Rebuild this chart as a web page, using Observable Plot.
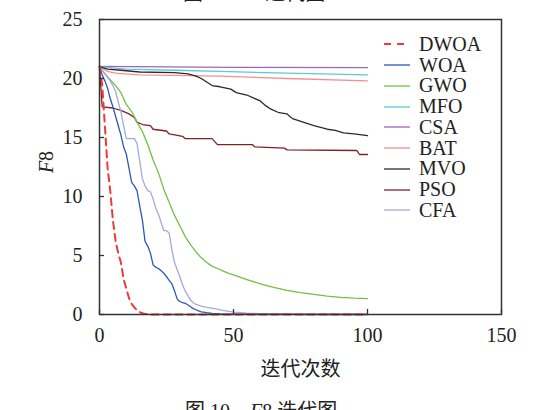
<!DOCTYPE html>
<html>
<head>
<meta charset="utf-8">
<script src="https://cdn.jsdelivr.net/npm/d3@7"></script>
<script src="https://cdn.jsdelivr.net/npm/@observablehq/plot@0.6"></script>
<style>
  html, body { margin: 0; padding: 0; background: #fff; }
  #page { position: relative; width: 546px; height: 410px; overflow: hidden; background: #fff;
          font-family: "Liberation Serif", "Noto Sans CJK SC", serif; color: #222; }
  #chart { position: absolute; left: 0; top: 0; }
  .cap { position: absolute; font-size: 20px; line-height: 24px; white-space: nowrap; }
  #ylab { position: absolute; left: 46px; top: 162px; font-size: 20px; line-height: 20px;
          transform: translate(-50%, -50%) rotate(-90deg); white-space: nowrap; }
  #legend { position: absolute; left: 383px; top: 34px; font-size: 20px; }
  #legend .row { display: flex; align-items: center; height: 20.75px; }
  #legend svg { margin-right: 8px; }
</style>
</head>
<body>
<div id="page">
  <div class="cap" id="title" style="left:183px; top:-19px;">图 9　<i>F</i>7 迭代图</div>
  <div id="chart"></div>
  <div id="ylab"><i>F</i>8</div>
  <div id="legend"></div>
  <div class="cap" id="caption" style="left:185px; top:399px;">图 10　<i>F</i>8 迭代图</div>
</div>
<script>
// Algorithm names and line colours
const series = ["DWOA", "WOA", "GWO", "MFO", "CSA", "BAT", "MVO", "PSO", "CFA"];
const colors = ["#ee3a3a", "#2f57b5", "#72c043", "#5cc9d6", "#a264b8", "#f58f95", "#2b2b2b", "#7b2327", "#a3aade"];

// Axis ticks
const xTicks = [0, 50, 100, 150];
const yTicks = [0, 5, 10, 15, 20, 25];

// Best fitness per iteration: [iteration, F8]
const dwoa = [[0,21],[1,19.5],[2,16],[3,12.5],[4,10.5],[5,8.0],[6,6.2],[7,5.2],[8,4.4],[9,3.0],[10,2.2],[11,1.4],[12,0.9],[13,0.6],[14,0.35],[15,0.2],[16,0.1],[17,0.05],[18,0.02],[20,0],[100,0]];
const woa = [[0,21],[1,20.3],[2,19.8],[3,19.2],[4,18.3],[5,17.6],[6,16.8],[7,16.0],[8,15.2],[9,14.2],[10,13.6],[11,12.4],[12,11.2],[13,10.9],[14,10.5],[15,9.2],[16,8.0],[17,6.2],[18,5.8],[19,5.2],[20,4.2],[21,4.0],[22,3.9],[23,3.7],[24,3.5],[25,3.2],[26,2.9],[27,2.6],[28,2.0],[29,1.3],[30,1.1],[31,1.0],[32,0.95],[33,0.8],[34,0.65],[35,0.5],[36,0.4],[37,0.3],[38,0.22],[40,0.15],[42,0.1],[45,0.06],[50,0.03],[55,0.02],[60,0.01],[70,0.005],[100,0]];
const gwo = [[0,21],[2,20.4],[4,19.9],[6,19.4],[8,18.8],[10,17.8],[12,17.2],[14,16.3],[16,15.5],[18,14.4],[20,13.1],[22,12.0],[24,10.6],[26,9.5],[28,8.4],[30,7.5],[32,6.6],[34,5.9],[36,5.3],[38,4.8],[40,4.4],[42,4.1],[44,3.9],[46,3.7],[48,3.5],[50,3.35],[55,2.95],[60,2.6],[65,2.3],[70,2.05],[75,1.85],[80,1.7],[85,1.55],[90,1.45],[95,1.38],[100,1.35]];
const mfo = [[0,21],[10,20.8],[28,20.7],[45,20.6],[70,20.45],[100,20.3]];
const csa = [[0,21.02],[50,20.95],[100,20.92]];
const bat = [[0,21],[3,20.6],[6,20.45],[15,20.3],[45,20.2],[70,20.0],[100,19.8]];
const mvo = [[0,21],[3,20.8],[8,20.7],[15,20.55],[28,20.5],[33,20.4],[36,20.2],[38,20.0],[40,19.7],[42,19.4],[45,19.3],[49,19.1],[51,18.8],[55,18.6],[58,18.3],[60,18.1],[62,17.7],[64,17.4],[67,17.1],[70,17.0],[72,16.6],[76,16.3],[80,16.0],[85,15.7],[88,15.6],[91,15.4],[95,15.3],[100,15.15]];
const pso = [[0,21],[1,17.6],[5,17.5],[8,17.3],[11,17.0],[13,16.7],[14,16.3],[16,16.1],[19,16.0],[20,15.7],[25,15.55],[26,15.3],[31,15.1],[32,14.9],[42,14.9],[44,14.4],[57,14.4],[58,14.2],[69,14.1],[70,13.95],[96,13.9],[97,13.56],[100,13.56]];
const cfa = [[0,21],[1,20.7],[2,20.4],[3,20.1],[4,19.8],[5,19.4],[6,18.9],[7,18.0],[8,17.2],[9,16.0],[10,14.9],[13,14.9],[14,14.5],[15,13.0],[16,11.5],[17,10.9],[18,10.5],[19,10.4],[20,9.8],[21,9.0],[22,8.5],[23,7.8],[24,7.1],[25,7.1],[26,6.9],[27,5.5],[28,4.4],[29,3.8],[30,3.2],[31,2.5],[32,2.0],[33,1.6],[34,1.2],[35,1.0],[36,0.85],[38,0.7],[40,0.6],[43,0.5],[46,0.35],[50,0.2],[55,0.12],[60,0.08],[70,0.05],[80,0.03],[100,0.02]];

const byName = {DWOA: dwoa, WOA: woa, GWO: gwo, MFO: mfo, CSA: csa, BAT: bat, MVO: mvo, PSO: pso, CFA: cfa};
// Later names are drawn on top
const drawOrder = ["CSA", "MFO", "BAT", "MVO", "PSO", "GWO", "CFA", "WOA", "DWOA"];

const rows = [];
for (const name of drawOrder) for (const [it, v] of byName[name]) rows.push({name, it, v});

const chart = Plot.plot({
  width: 546,
  height: 384,
  marginLeft: 99,
  marginRight: 45,
  marginTop: 19,
  marginBottom: 70,
  x: {domain: [0, 150]},
  y: {domain: [0, 25]},
  color: {domain: series, range: colors},
  style: {fontFamily: "'Liberation Serif', 'Noto Sans CJK SC', serif", fontSize: "20px", color: "#222", background: "transparent"},
  marks: [
    Plot.line(rows.filter(d => d.name !== "DWOA"), {x: "it", y: "v", z: "name", stroke: "name", strokeWidth: 1.3}),
    Plot.line(rows.filter(d => d.name === "DWOA"), {x: "it", y: "v", stroke: "name", strokeWidth: 2, strokeDasharray: "7,5"}),
    Plot.frame({stroke: "#333", strokeWidth: 1.5}),
    Plot.axisY(yTicks, {tickSize: -5, tickPadding: 22, stroke: "#333", strokeWidth: 1.3, label: null}),
    Plot.axisX(xTicks, {tickSize: -5, tickPadding: 18, stroke: "#333", strokeWidth: 1.3,
      label: "迭代次数", labelAnchor: "center", labelArrow: "none", labelOffset: 61})
  ]
});
document.getElementById("chart").appendChild(chart);

// Legend rows: line sample + name
const legend = d3.select("#legend");
series.forEach((name, i) => {
  const row = legend.append("div").attr("class", "row");
  const s = row.append("svg").attr("width", 28).attr("height", 6);
  s.append("line").attr("x1", 1).attr("x2", 27).attr("y1", 3).attr("y2", 3)
    .attr("stroke", colors[i]).attr("stroke-width", name === "DWOA" ? 2 : 1.3)
    .attr("stroke-dasharray", name === "DWOA" ? "7,6" : null);
  row.append("span").text(name);
});
</script>
</body>
</html>
